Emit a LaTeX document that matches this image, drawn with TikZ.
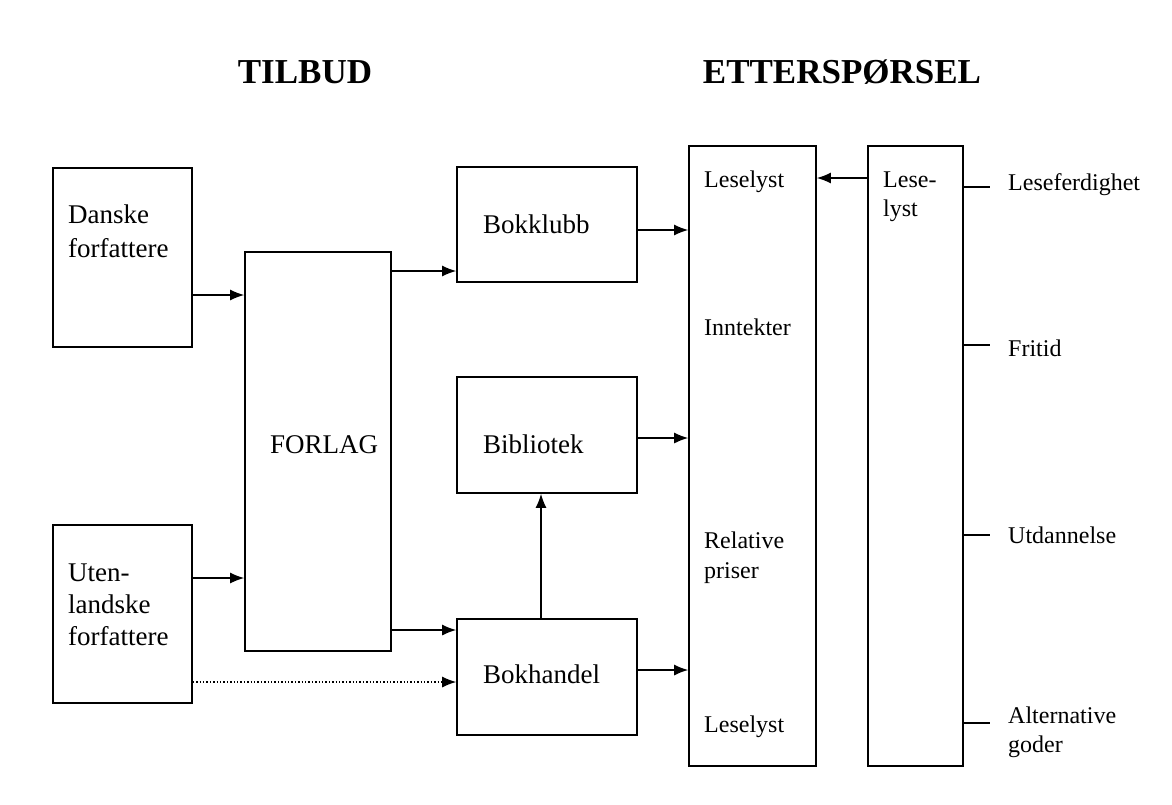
\documentclass[tikz,border=0pt]{standalone}
\usepackage{fontspec}
\setmainfont{Liberation Serif}
\usetikzlibrary{arrows.meta}
\begin{document}
\begin{tikzpicture}[x=1pt,y=-1pt,
  box/.style={draw, line width=1.6pt, inner sep=0pt},
  lbl/.style={inner sep=0pt, anchor=base west, font=\fontsize{27}{32}\selectfont},
  rlbl/.style={inner sep=0pt, anchor=base west, font=\fontsize{24}{29}\selectfont},
  ttl/.style={inner sep=0pt, font=\fontsize{35}{40}\selectfont\bfseries},
  arr/.style={line width=1.4pt, -{Latex[length=14pt,width=11pt]}},
  tick/.style={line width=1.4pt}]
\useasboundingbox (0,0) rectangle (1172,804);
% titles
\node[ttl] (t1) at (305,72) {TILBUD};
\node[ttl] (t2) at (842,72) {ETTERSPØRSEL};
% boxes
\node[box, minimum width=139pt, minimum height=179pt] (dan) at (122.5,257.5) {};
\node[lbl] (danA) at (68,223) {Danske};
\node[lbl] (danB) at (68,257) {forfattere};
\node[box, minimum width=139pt, minimum height=178pt] (ute) at (122.5,614) {};
\node[lbl] (uteA) at (68,581) {Uten-};
\node[lbl] (uteB) at (68,613) {landske};
\node[lbl] (uteC) at (68,645) {forfattere};
\node[box, minimum width=146pt, minimum height=399pt] (forl) at (318,451.5) {};
\node[lbl] (forlT) at (270,453) {FORLAG};
\node[box, minimum width=180pt, minimum height=115pt] (klubb) at (547,224.5) {};
\node[lbl] (klubbT) at (483,233) {Bokklubb};
\node[box, minimum width=180pt, minimum height=116pt] (bibl) at (547,435) {};
\node[lbl] (biblT) at (483,453) {Bibliotek};
\node[box, minimum width=180pt, minimum height=116pt] (hand) at (547,677) {};
\node[lbl] (handT) at (483,683) {Bokhandel};
\node[box, minimum width=127pt, minimum height=620pt] (dem) at (752.5,456) {};
\node[box, minimum width=95pt, minimum height=620pt] (les) at (915.5,456) {};
% texts in demand box
\node[rlbl] (d1) at (704,187) {Leselyst};
\node[rlbl] (d2) at (704,335) {Inntekter};
\node[rlbl] (d3a) at (704,548) {Relative};
\node[rlbl] (d3b) at (704,578) {priser};
\node[rlbl] (d4) at (704,732) {Leselyst};
\node[rlbl] (l1a) at (883,187) {Lese-};
\node[rlbl] (l1b) at (883,216) {lyst};
% factors
\node[rlbl] (f1) at (1008,190) {Leseferdighet};
\node[rlbl] (f2) at (1008,356) {Fritid};
\node[rlbl] (f3) at (1008,543) {Utdannelse};
\node[rlbl] (f4a) at (1008,723) {Alternative};
\node[rlbl] (f4b) at (1008,752) {goder};
\coordinate (c1) at (990,187);
\coordinate (c2) at (990,345);
\coordinate (c3) at (990,535);
\coordinate (c4) at (990,723);
\draw[tick] (les.east |- c1) -- (c1);
\draw[tick] (les.east |- c2) -- (c2);
\draw[tick] (les.east |- c3) -- (c3);
\draw[tick] (les.east |- c4) -- (c4);
% arrows
\draw[arr] (dan.east |- 0,295) -- (forl.west |- 0,295);
\draw[arr] (ute.east |- 0,578) -- (forl.west |- 0,578);
\draw[arr] (forl.east |- 0,271) -- (klubb.west |- 0,271);
\draw[arr] (forl.east |- 0,630) -- (hand.west |- 0,630);
\draw[arr, dotted, line width=1.2pt] (ute.east |- 0,682) -- (hand.west |- 0,682);
\draw[arr] (hand.north -| 541,0) -- (bibl.south -| 541,0);
\draw[arr] (klubb.east |- 0,230) -- (dem.west |- 0,230);
\draw[arr] (bibl.east |- 0,438) -- (dem.west |- 0,438);
\draw[arr] (hand.east |- 0,670) -- (dem.west |- 0,670);
\draw[arr] (les.west |- 0,178) -- (dem.east |- 0,178);
\end{tikzpicture}
\end{document}
